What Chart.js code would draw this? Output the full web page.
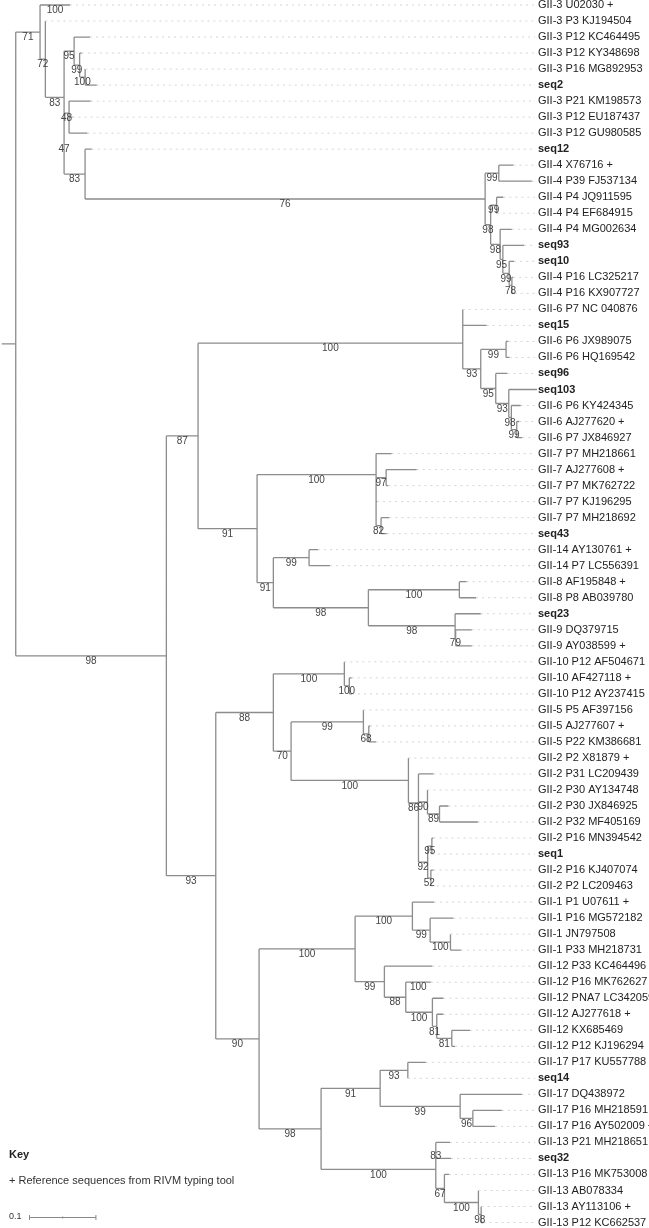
<!DOCTYPE html>
<html lang="en">
<head>
<meta charset="UTF-8" />
<title>GII tree</title>
<style>
  html, body { margin: 0; padding: 0; background: #fff; }
  #tree { display: block; }
</style>
</head>
<body>
<canvas id="tree" width="649" height="1228"></canvas>
<script src="https://cdn.jsdelivr.net/npm/chart.js@4.4.1/dist/chart.umd.min.js"></script>
<script>
const FONT = '"Liberation Sans", Arial, sans-serif';

// tip names, top to bottom
const tipLabels = [
  'GII-3 U02030 +', 'GII-3 P3 KJ194504', 'GII-3 P12 KC464495', 'GII-3 P12 KY348698',
  'GII-3 P16 MG892953', 'seq2', 'GII-3 P21 KM198573', 'GII-3 P12 EU187437',
  'GII-3 P12 GU980585', 'seq12', 'GII-4 X76716 +', 'GII-4 P39 FJ537134',
  'GII-4 P4 JQ911595', 'GII-4 P4 EF684915', 'GII-4 P4 MG002634', 'seq93', 'seq10',
  'GII-4 P16 LC325217', 'GII-4 P16 KX907727', 'GII-6 P7 NC 040876', 'seq15',
  'GII-6 P6 JX989075', 'GII-6 P6 HQ169542', 'seq96', 'seq103', 'GII-6 P6 KY424345',
  'GII-6 AJ277620 +', 'GII-6 P7 JX846927', 'GII-7 P7 MH218661', 'GII-7 AJ277608 +',
  'GII-7 P7 MK762722', 'GII-7 P7 KJ196295', 'GII-7 P7 MH218692', 'seq43',
  'GII-14 AY130761 +', 'GII-14 P7 LC556391', 'GII-8 AF195848 +', 'GII-8 P8 AB039780',
  'seq23', 'GII-9 DQ379715', 'GII-9 AY038599 +', 'GII-10 P12 AF504671',
  'GII-10 AF427118 +', 'GII-10 P12 AY237415', 'GII-5 P5 AF397156', 'GII-5 AJ277607 +',
  'GII-5 P22 KM386681', 'GII-2 P2 X81879 +', 'GII-2 P31 LC209439', 'GII-2 P30 AY134748',
  'GII-2 P30 JX846925', 'GII-2 P32 MF405169', 'GII-2 P16 MN394542', 'seq1',
  'GII-2 P16 KJ407074', 'GII-2 P2 LC209463', 'GII-1 P1 U07611 +', 'GII-1 P16 MG572182',
  'GII-1 JN797508', 'GII-1 P33 MH218731', 'GII-12 P33 KC464496', 'GII-12 P16 MK762627',
  'GII-12 PNA7 LC342059', 'GII-12 AJ277618 +', 'GII-12 KX685469', 'GII-12 P12 KJ196294',
  'GII-17 P17 KU557788', 'seq14', 'GII-17 DQ438972', 'GII-17 P16 MH218591',
  'GII-17 P16 AY502009 +', 'GII-13 P21 MH218651', 'seq32', 'GII-13 P16 MK753008',
  'GII-13 AB078334', 'GII-13 AY113106 +', 'GII-13 P12 KC662537'
];

// clades in newick, tips given by their index in tipLabels, bootstrap after ")"
const cladeGII3_4 = '(0:0.0452,(1:0,((2:0.0241,(3:0.0033,(4:0.0008,5:0.0176)100:0.0083)99:0.0083)95:0.0151,((6:0.0327,(7:0.0053,8:0.0276):0)48:0.0075,(9:0.0101,((10:0.0220,11:0.0497)99:0.0206,((12:0.0102,13:0.0008)99:0.0090,(14:0.0176,(15:0.0321,(16:0.0075,(17:0.0020,18:0.0042)78:0.0041)99:0.0095)95:0.0041)98:0.0143)98:0.0083)76:0.6024)83:0.0316)47:0)83:0.0282)72:0.0080)71:0.0366';
const cladeGII6 = '((19:0,20:0.0361):0,((21:0.0038,22:0.0053)99:0.0381,(23:0.0175,(24:0.0426,(25:0.0142,(26:0.0039,27:0.0084)99:0.0081)98:0.0039)93:0.0196)95:0.0226)93:0.0271)100:0.3986';
const cladeGII7_14_8_9 = '((28:0.0236,((29:0.0462,30:0.0035)97:0.0151,(31:0.0015,(32:0.0125,33:0.0086)82:0.0075):0):0)100:0.1792,((34:0.0136,35:0.0316)99:0.0538,((36:0.0111,37:0.0252)100:0.1370,(38:0.0387,(39:0.0244,40:0.0244)79:0.0008)98:0.1306)98:0.1431)91:0.0245)91:0.0889';
const cladeGII10_5_2 = '((41:0,(42:0.0036,43:0.0041)100:0.0075)100:0.1069,((44:0,(45:0.0020,46:0.0110)68:0.0081)99:0.1089,(47:0,(48:0.0226,((49:0,(50:0.0136,51:0.0578)89:0.0181)90:0.0136,((52:0.0024,53:0)95:0.0063,(54:0.0039,55:0)52:0.0048)92:0.0139):0)86:0.0151)100:0.1767)70:0.0267)88:0.0867';
const cladeGII1_12 = '((56:0.0327,(57:0.0351,(58:0,59:0.0157)100:0.0306)99:0.0267)100:0.0863,(60:0.0723,(61:0.0377,(62:0.0166,(63:0.0099,(64:0.0276,65:0.0050)81:0.0226)81:0.0066)100:0.0401)88:0.0322)99:0.0441)100:0.1446';
const cladeGII17_13 = '(((66:0.0271,67:0)93:0.0417,(68:0.0929,(69:0.0437,70:0.0336)96:0.0191)99:0.1205)91:0.0889,((71:0.0215,72:0.0230)83:0,(73:0.0071,(74:0,(75:0.0008,76:0.0035)98:0.0041)100:0.0512)67:0.0130)100:0.1727)98:0.0934';

// support values that sit on tip branches
const leafSupport = [[0, 100], [61, 100]];

const keyTitle = 'Key';
const keyText = '+ Reference sequences from RIVM typing tool';
const scaleBarLength = 0.1;
const scaleBarText = '0.1';

const treeNewick = '(' + cladeGII3_4 + ',((' + cladeGII6 + ',' + cladeGII7_14_8_9 +
  ')87:0.0477,(' + cladeGII10_5_2 + ',(' + cladeGII1_12 + ',' + cladeGII17_13 +
  ')90:0.0652)93:0.0744)98:0.2268):0.0211;';

function parseNewick(s) {
  let i = 0;
  function node() {
    const n = { children: [] };
    if (s[i] === '(') {
      i++;
      n.children.push(node());
      while (s[i] === ',') { i++; n.children.push(node()); }
      i++; // ')'
    }
    let label = '';
    while (i < s.length && !':,);'.includes(s[i])) label += s[i++];
    n.length = 0;
    if (s[i] === ':') {
      i++;
      let len = '';
      while (i < s.length && !',);'.includes(s[i])) len += s[i++];
      n.length = parseFloat(len);
    }
    if (n.children.length) n.support = label ? Number(label) : null;
    else n.tip = Number(label);
    return n;
  }
  return node();
}

const root = parseNewick(treeNewick.replace(/\s/g, ''));
const nodes = [];
const leafSup = {};
leafSupport.forEach(([t, v]) => { leafSup[t] = v; });

function layout(n, parentX) {
  n.px = parentX;
  n.x = parentX + n.length;
  if (n.children.length) {
    n.children.forEach(c => layout(c, n.x));
    n.y = (n.children[0].y + n.children[n.children.length - 1].y) / 2;
  } else {
    n.y = n.tip;
    n.support = leafSup[n.tip] !== undefined ? leafSup[n.tip] : null;
  }
  nodes.push(n);
}
layout(root, 0);

const X_MIN = -0.0026, X_MAX = 0.806;
const leaderEnd = X_MAX - 0.003;

const branchPts = [];
const leaderPts = [];
nodes.forEach(n => {
  branchPts.push({ x: n.px, y: n.y }, { x: n.x, y: n.y }, { x: n.x, y: null });
  if (n.children.length) {
    branchPts.push({ x: n.x, y: n.children[0].y },
                   { x: n.x, y: n.children[n.children.length - 1].y },
                   { x: n.x, y: null });
  } else if (n.x < leaderEnd) {
    leaderPts.push({ x: n.x, y: n.y }, { x: leaderEnd, y: n.y }, { x: n.x, y: null });
  }
});

const treeText = {
  id: 'treeText',
  afterDatasetsDraw(chart) {
    const { ctx } = chart;
    const xs = chart.scales.x, ys = chart.scales.y;
    ctx.save();
    ctx.font = '10px ' + FONT;
    ctx.fillStyle = '#444';
    ctx.textAlign = 'center';
    ctx.textBaseline = 'middle';
    nodes.forEach(n => {
      if (n.support == null) return;
      const cx = (xs.getPixelForValue(n.px) + xs.getPixelForValue(n.x)) / 2;
      ctx.fillText(String(n.support), cx, ys.getPixelForValue(n.y) + 5.5);
    });

    ctx.textAlign = 'left';
    ctx.fillStyle = '#222';
    ctx.font = 'bold 11px ' + FONT;
    ctx.fillText(keyTitle, 9, 1155);
    ctx.fillStyle = '#333';
    ctx.font = '11px ' + FONT;
    ctx.fillText(keyText, 9, 1181);
    ctx.font = '9px ' + FONT;
    ctx.fillText(scaleBarText, 9, 1217);

    const x0 = 29.5;
    const len = xs.getPixelForValue(scaleBarLength) - xs.getPixelForValue(0);
    ctx.strokeStyle = '#888';
    ctx.lineWidth = 1;
    ctx.beginPath();
    ctx.moveTo(x0, 1217.5); ctx.lineTo(x0 + len, 1217.5);
    ctx.moveTo(x0, 1215); ctx.lineTo(x0, 1220);
    ctx.moveTo(x0 + len, 1215); ctx.lineTo(x0 + len, 1220);
    ctx.moveTo(x0 + len / 2, 1216.5); ctx.lineTo(x0 + len / 2, 1218.5);
    ctx.stroke();
    ctx.restore();
  }
};

Chart.defaults.font.family = FONT;

new Chart(document.getElementById('tree'), {
  type: 'scatter',
  data: {
    datasets: [
      {
        data: leaderPts,
        showLine: true,
        spanGaps: false,
        borderColor: '#d4d4d4',
        borderWidth: 1,
        borderDash: [2, 4],
        pointRadius: 0
      },
      {
        data: branchPts,
        showLine: true,
        spanGaps: false,
        borderColor: '#8c8c8c',
        borderWidth: 1.3,
        pointRadius: 0
      }
    ]
  },
  options: {
    responsive: false,
    animation: false,
    events: [],
    layout: { padding: 0 },
    plugins: { legend: { display: false }, tooltip: { enabled: false } },
    scales: {
      x: { type: 'linear', display: false, min: X_MIN, max: X_MAX },
      y: {
        type: 'linear',
        position: 'right',
        reverse: true,
        min: -0.312,
        max: 76.342,
        grid: { display: false, drawTicks: false },
        border: { display: false },
        afterBuildTicks: (scale) => {
          scale.ticks = tipLabels.map((_, i) => ({ value: i }));
        },
        afterFit: (scale) => {
          scale.width = 112;
          scale.paddingTop = 0;
          scale.paddingBottom = 0;
        },
        ticks: {
          autoSkip: false,
          padding: 1,
          color: '#222',
          font: (c) => {
            const t = c.tick ? tipLabels[c.tick.value] : '';
            return { family: FONT, size: 11, weight: t && t.startsWith('seq') ? 'bold' : 'normal' };
          },
          callback: (v) => tipLabels[v] || ''
        }
      }
    }
  },
  plugins: [treeText]
});
</script>
</body>
</html>
